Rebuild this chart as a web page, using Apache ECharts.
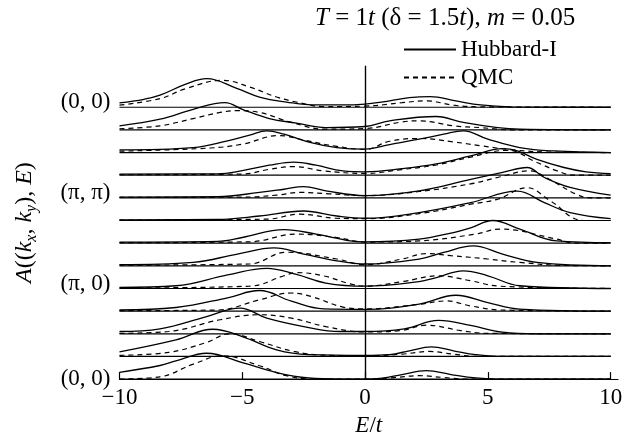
<!DOCTYPE html>
<html>
<head>
<meta charset="utf-8">
<script src="https://cdn.jsdelivr.net/npm/echarts@6/dist/echarts.min.js"></script>
<style>html,body{margin:0;padding:0;background:#fff}#c{width:642px;height:442px}</style>
</head>
<body>
<div id="c"></div>
<script>
// ---- data: spectral curves A(k,E), heights in units of row spacing ----
// k-path labels and the row (curve index, 0 = bottom) where each sits
const kLabels = ['(0, 0)', '(π, π)', '(π, 0)', '(0, 0)'];
const kRows = [12, 8, 4, 0];
const xTicks = [-10, -5, 0, 5, 10];

// Hubbard-I (solid), [E/t, A]
const hub0  = [[-10,0.3],[-8.35,0.6],[-7.7,0.8],[-6.45,1.14],[-5,0.73],[-3.6,0.29],[-2.3,0.05],[-1,0],[0,0],[0.7,0.04],[1.5,0.2],[2.5,0.37],[3.5,0.2],[4.5,0.05],[5.3,0],[10,0]];
const hub1  = [[-10,0.2],[-7.7,0.73],[-6.2,1.2],[-5,0.88],[-3.6,0.29],[-2.3,0.08],[0,0.05],[1,0.08],[1.8,0.25],[2.7,0.42],[3.6,0.25],[4.5,0.08],[5.5,0],[10,0]];
const hub2  = [[-10,0.1],[-8.35,0.22],[-6.45,0.76],[-5.1,1.13],[-4,0.69],[-2.5,0.32],[-1,0.1],[0,0.1],[1.6,0.22],[3,0.59],[4.3,0.37],[5.6,0.07],[7,0],[10,0]];
const hub3  = [[-10,0.05],[-7.7,0.16],[-5.6,0.59],[-4.3,0.91],[-3,0.44],[-1.7,0.1],[0,0.08],[2.2,0.31],[3.7,0.7],[5,0.38],[6.3,0.09],[10,0]];
const hub4  = [[-10,0.05],[-7.7,0.12],[-5.6,0.6],[-4,0.89],[-2.8,0.62],[-1.6,0.24],[0,0.1],[2.2,0.3],[2.9,0.48],[4,0.78],[5,0.56],[6.3,0.12],[10,0]];
const hub5  = [[-10,0.05],[-7,0.15],[-5.2,0.52],[-3.7,0.79],[-2.5,0.52],[-1.15,0.22],[0,0.08],[2.2,0.3],[3.2,0.59],[4.4,0.88],[5.6,0.52],[7,0.15],[10,0]];
const hub6  = [[-10,0.05],[-6,0.08],[-5,0.25],[-3.3,0.6],[-2,0.4],[-0.6,0.1],[0,0.06],[2.2,0.18],[3.6,0.47],[4.3,0.68],[5.2,1.0],[6.3,0.62],[7.8,0.1],[10,0.02]];
const hub7  = [[-10,0.03],[-6,0.05],[-4.3,0.2],[-2.5,0.42],[-1.15,0.2],[0,0.1],[2.2,0.35],[4.3,0.79],[6.2,1.3],[7.3,0.79],[8.35,0.35],[10,0.08]];
const hub8  = [[-10,0.03],[-6,0.05],[-4.3,0.24],[-3.3,0.38],[-2.5,0.5],[-1.6,0.31],[0,0.1],[2.2,0.31],[4.3,0.82],[5.6,1.12],[6.6,1.34],[7.3,0.9],[8.35,0.46],[10,0.12]];
const hub9  = [[-10,0.05],[-6,0.06],[-5,0.2],[-3.9,0.44],[-2.9,0.58],[-2,0.44],[-0.9,0.19],[0,0.15],[1.5,0.29],[2.9,0.5],[4.3,0.85],[5.6,1.17],[6.2,1.07],[7,0.7],[8.1,0.34],[9,0.15],[10,0.07]];
const hub10 = [[-10,0.12],[-7,0.22],[-5.6,0.52],[-4.7,0.77],[-4,0.96],[-3.3,0.81],[-2.2,0.44],[-1.15,0.22],[0,0.15],[1,0.35],[2.2,0.59],[3.2,0.81],[4,0.96],[5,0.59],[6.3,0.22],[7.7,0.07],[10,0]];
const hub11 = [[-10,0.18],[-8.35,0.47],[-7,0.91],[-5.7,1.2],[-5,0.91],[-3.9,0.5],[-2.8,0.3],[-1.6,0.1],[0,0.15],[1,0.4],[2.9,0.59],[4,0.33],[5.4,0.1],[6.3,0.03],[10,0]];
const hub12 = [[-10,0.19],[-9,0.35],[-8.35,0.53],[-7.3,1.02],[-6.45,1.26],[-5.2,0.82],[-4.3,0.45],[-3.2,0.23],[-2,0.1],[-1,0.1],[0,0.14],[1,0.28],[1.8,0.42],[2.65,0.47],[3.7,0.28],[4.7,0.1],[5.9,0.02],[10,0]];

// QMC (dashed), [E/t, A]
const qmc0  = [[-10,0],[-8.35,0.1],[-7,0.66],[-5.8,1.03],[-4.3,0.59],[-3.2,0.15],[-2,0],[0,0],[1,0.05],[2.2,0.15],[3.2,0.07],[4.2,0],[10,0]];
const qmc1  = [[-10,0.05],[-8,0.18],[-6.5,0.6],[-5.5,1.0],[-4.3,0.66],[-2.9,0.22],[-1.5,0.05],[0,0.03],[1.5,0.1],[2.6,0.22],[3.6,0.1],[4.6,0],[10,0]];
const qmc2  = [[-10,0.02],[-8,0.1],[-5.9,0.62],[-4.3,0.84],[-3,0.69],[-1.6,0.32],[0,0.08],[1.5,0.15],[2.5,0.38],[3.9,0.14],[5,0.02],[10,0]];
const qmc3  = [[-10,0.02],[-6,0.05],[-4.3,0.5],[-3,0.8],[-2.2,0.65],[-0.9,0.18],[0,0.1],[2.2,0.3],[3.3,0.45],[4.3,0.23],[5.5,0.05],[10,0]];
const qmc4  = [[-10,0.02],[-4.7,0.1],[-3.3,0.56],[-2.8,0.7],[-1.7,0.56],[-0.6,0.2],[0,0.1],[1.5,0.3],[3,0.56],[4.3,0.34],[5.5,0.1],[10,0]];
const qmc5  = [[-10,0.03],[-4.7,0.08],[-3.2,0.6],[-1.15,0.3],[0,0.05],[1.5,0.3],[2.5,0.54],[3.5,0.45],[5,0.3],[6.3,0.15],[8,0.02],[10,0]];
const qmc6  = [[-10,0.02],[-4.7,0.06],[-2.8,0.4],[-1.15,0.25],[0,0.05],[2.2,0.1],[4.5,0.4],[5.5,0.62],[7.8,0.18],[8.5,0],[10,0]];
const qmc7  = [[-10,0.02],[-4,0.06],[-2.65,0.28],[-1.2,0.1],[0,0.08],[2.2,0.3],[4.3,0.72],[5.4,0.94],[6.6,1.45],[7.5,0.9],[8.9,0],[10,0]];
const qmc8  = [[-10,0.02],[-5,0.03],[-3.6,0.12],[-2.65,0.24],[-1.5,0.18],[0,0.1],[2.2,0.28],[4.3,0.62],[5.4,0.9],[6.7,1.19],[7.5,0.82],[8.6,0.16],[9.2,0],[10,0]];
const qmc9  = [[-10,0.02],[-5,0.05],[-3.9,0.26],[-2.9,0.38],[-1.7,0.19],[0,0.08],[1.5,0.25],[2.9,0.45],[4.3,0.8],[5.8,1.1],[7,0.56],[7.8,0.2],[8.5,0],[10,0]];
const qmc10 = [[-10,0.06],[-6.3,0.2],[-5,0.37],[-3.5,0.75],[-2.5,0.55],[-1.2,0.28],[0,0.14],[1,0.5],[2.2,0.62],[3.6,0.47],[4.7,0.3],[6,0.12],[7.5,0.02],[10,0]];
const qmc11 = [[-10,0.05],[-8.35,0.18],[-7,0.5],[-5.9,0.77],[-5.2,0.85],[-4.3,0.77],[-3,0.33],[-1.6,0.03],[0,0.06],[1.5,0.35],[2.2,0.4],[3.6,0.18],[4.7,0.1],[6,0],[10,0]];
const qmc12 = [[-10,0.09],[-8.35,0.38],[-7.3,0.82],[-5.8,1.19],[-4.7,0.89],[-3.6,0.45],[-2.8,0.23],[-1.7,0.03],[0,0.05],[1.5,0.2],[2.5,0.28],[3.6,0.09],[4.7,0.02],[10,0]];

const hubCurves = [hub0,hub1,hub2,hub3,hub4,hub5,hub6,hub7,hub8,hub9,hub10,hub11,hub12];
const qmcCurves = [qmc0,qmc1,qmc2,qmc3,qmc4,qmc5,qmc6,qmc7,qmc8,qmc9,qmc10,qmc11,qmc12];

// ---- chart ----
const FONT = 'Liberation Serif';
const yTop = 13.82;
const series = [];
for (let i = 0; i < hubCurves.length; i++) {
  series.push({
    type: 'line', data: [[-10, i], [10, i]], symbol: 'none', silent: true,
    lineStyle: { color: '#000', width: 1.2 }, z: 1
  });
  series.push({
    name: 'Hubbard-I', type: 'line', symbol: 'none', smooth: 0.4,
    data: hubCurves[i].map(p => [p[0], i + p[1]]),
    lineStyle: { color: '#000', width: 1.3, type: 'solid' }, itemStyle: { color: '#000' }, z: 3
  });
  series.push({
    name: 'QMC', type: 'line', symbol: 'none', smooth: 0.4,
    data: qmcCurves[i].map(p => [p[0], i + p[1]]),
    lineStyle: { color: '#000', width: 1.2, type: [5, 4] }, itemStyle: { color: '#000' }, z: 3
  });
}
// vertical line at E = 0
series.push({
  type: 'line', data: [], silent: true,
  markLine: { silent: true, symbol: 'none', label: { show: false },
    lineStyle: { color: '#000', width: 1.2, type: 'solid' }, data: [{ xAxis: 0 }] }
});

const chart = echarts.init(document.getElementById('c'), null, { renderer: 'canvas' });
chart.setOption({
  animation: false,
  backgroundColor: '#fff',
  title: {
    text: '{i|T} = 1{i|t} (δ = 1.5{i|t}), {i|m} = 0.05',
    left: 310, top: 1,
    textStyle: { fontFamily: FONT, fontSize: 25, fontWeight: 'normal', color: '#000',
      rich: { i: { fontFamily: FONT, fontSize: 25, fontStyle: 'italic', color: '#000' } } }
  },
  legend: {
    data: ['Hubbard-I', 'QMC'], orient: 'vertical', left: 398, top: 33,
    itemWidth: 52, itemHeight: 14, itemGap: 5, selectedMode: false,
    itemStyle: { opacity: 0 },
    textStyle: { fontFamily: FONT, fontSize: 23, color: '#000' }
  },
  grid: { left: 119.5, right: 24, top: 66, bottom: 61.5 },
  xAxis: {
    type: 'value', min: -10, max: 10.3,
    name: '{i|E}/{i|t}', nameLocation: 'middle', nameGap: 33,
    nameTextStyle: { fontFamily: FONT, fontSize: 23, color: '#000',
      rich: { i: { fontFamily: FONT, fontSize: 23, fontStyle: 'italic', color: '#000' } } },
    axisLine: { lineStyle: { color: '#000', width: 1.2 } },
    axisTick: { inside: true, length: 7, customValues: xTicks, lineStyle: { color: '#000', width: 1.2 } },
    axisLabel: { customValues: xTicks, margin: 7, fontFamily: FONT, fontSize: 23, color: '#000',
      formatter: v => (v < 0 ? '\u2212' + Math.abs(v) : String(v)) },
    splitLine: { show: false }
  },
  yAxis: {
    type: 'value', min: 0, max: yTop,
    name: '{i|A}(({i|k}{s|x}, {i|k}{s|y}), {i|E})', nameLocation: 'middle', nameRotate: 90, nameGap: 80,
    nameTextStyle: { fontFamily: FONT, fontSize: 24, color: '#000', lineHeight: 30,
      rich: {
        i: { fontFamily: FONT, fontSize: 24, fontStyle: 'italic', color: '#000', lineHeight: 30 },
        s: { fontFamily: FONT, fontSize: 16, fontStyle: 'italic', color: '#000', lineHeight: 30, verticalAlign: 'bottom' }
      } },
    axisLine: { show: true, lineStyle: { color: '#000', width: 1.2 } },
    axisTick: { show: false },
    axisLabel: {
      customValues: kRows.map(r => (r === 0 ? 0 : r + 0.22)),
      margin: 9, fontFamily: FONT, fontSize: 23, color: '#000',
      formatter: v => kLabels[kRows.indexOf(Math.round(v))]
    },
    splitLine: { show: false }
  },
  series: series
});
</script>
</body>
</html>
